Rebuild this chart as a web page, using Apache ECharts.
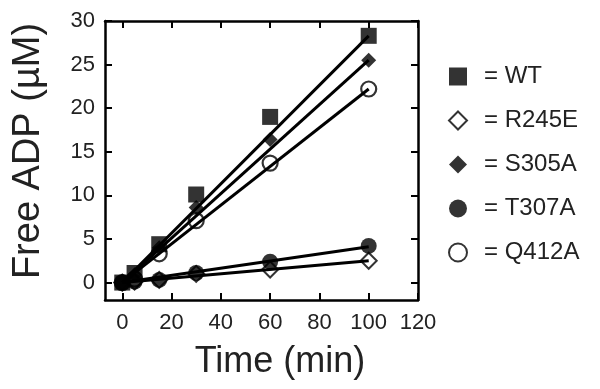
<!DOCTYPE html>
<html>
<head>
<meta charset="utf-8">
<script src="https://cdn.jsdelivr.net/npm/echarts@6/dist/echarts.min.js"></script>
<style>
  html, body { margin: 0; padding: 0; background: #fff; }
  #main { width: 600px; height: 389px; }
</style>
</head>
<body>
<div id="main"></div>
<script>
// time points (min) and free ADP (uM) for each mutant
var times = [0, 5, 15, 30, 60, 100];
var wt    = [0, 1.1, 4.4, 10.1, 19.0, 28.3];
var r245e = [0, 0.1, 0.3, 1.0, 1.5, 2.5];
var s305a = [0, 0.9, 4.0, 8.6, 16.4, 25.5];
var t307a = [0, 0.1, 0.3, 1.1, 2.4, 4.2];
var q412a = [0, 0.4, 3.3, 7.1, 13.7, 22.2];

// slopes of the straight fit lines (uM/min), drawn over fitRange
var names = ['WT', 'R245E', 'S305A', 'T307A', 'Q412A'];
var fitSlopes = [0.283, 0.025, 0.255, 0.041, 0.222];
var fitRange = [0, 100];

var xTicks = [0, 20, 40, 60, 80, 100, 120];
var yTicks = [0, 5, 10, 15, 20, 25, 30];

var chart = echarts.init(document.getElementById('main'));

var looks = {
    'WT':    { symbol: 'rect', size: [16, 16], style: { color: '#000' } },
    'R245E': { symbol: 'diamond', size: 16, style: { color: 'transparent', borderColor: '#000', borderWidth: 2 } },
    'S305A': { symbol: 'diamond', size: 15, style: { color: '#000' } },
    'T307A': { symbol: 'circle', size: 16, style: { color: '#000' } },
    'Q412A': { symbol: 'circle', size: 15, style: { color: 'transparent', borderColor: '#000', borderWidth: 2.2 } }
};
var values = { 'WT': wt, 'R245E': r245e, 'S305A': s305a, 'T307A': t307a, 'Q412A': q412a };

var series = [];
// fit lines first, under the markers
names.forEach(function (n, k) {
    series.push({
        name: n + ' fit',
        type: 'line',
        data: fitRange.map(function (t) { return [t, fitSlopes[k] * t]; }),
        showSymbol: false,
        silent: true,
        z: 2,
        lineStyle: { color: '#000', width: 3 }
    });
});
// markers, drawn so WT ends up on top
['Q412A', 'S305A', 'R245E', 'T307A', 'WT'].forEach(function (n) {
    series.push({
        name: n,
        type: 'scatter',
        data: times.map(function (t, i) { return [t, values[n][i]]; }),
        symbol: looks[n].symbol,
        symbolSize: looks[n].size,
        itemStyle: looks[n].style,
        z: 3
    });
});

var axisLine = { show: true, onZero: false, lineStyle: { color: '#000', width: 2.5 } };
var tickStyle = { color: '#000', width: 2 };
var font = 'Liberation Sans, Arial, sans-serif';

var option = {
    animation: false,
    grid: { left: 105, right: 182, top: 21, bottom: 89, containLabel: false, outerBoundsMode: 'none' },
    legend: {
        orient: 'vertical',
        left: 443,
        top: 59,
        itemWidth: 18,
        itemHeight: 18,
        itemGap: 19,
        data: names,
        formatter: function (n) { return '= ' + n; },
        textStyle: {
            fontFamily: font,
            fontSize: 24,
            lineHeight: 25,
            color: '#222',
            padding: [0, 0, 0, 12]
        }
    },
    xAxis: [{
        type: 'value',
        min: -7,
        max: 120,
        name: 'Time (min)',
        nameLocation: 'middle',
        nameGap: 44,
        nameTextStyle: {
            fontFamily: font,
            fontSize: 36,
            color: '#222',
            padding: [0, 0, 0, 37]
        },
        axisLine: axisLine,
        axisTick: { inside: true, length: 7, customValues: xTicks, lineStyle: tickStyle },
        axisLabel: {
            customValues: xTicks,
            margin: 12,
            fontFamily: font,
            fontSize: 22,
            color: '#222'
        },
        splitLine: { show: false }
    }, {
        type: 'value',
        position: 'top',
        min: -7,
        max: 120,
        axisLine: axisLine,
        axisTick: { inside: true, length: 7, customValues: xTicks, lineStyle: tickStyle },
        axisLabel: { show: false },
        splitLine: { show: false }
    }],
    yAxis: [{
        type: 'value',
        min: -2,
        max: 30,
        name: 'Free ADP (\u00b5M)',
        nameLocation: 'middle',
        nameGap: 57,
        nameTextStyle: {
            fontFamily: font,
            fontSize: 38,
            color: '#222',
            padding: [0, 0, 0, 19]
        },
        axisLine: axisLine,
        axisTick: { inside: true, length: 7, customValues: yTicks, lineStyle: tickStyle },
        axisLabel: {
            customValues: yTicks,
            margin: 10,
            fontFamily: font,
            fontSize: 22,
            color: '#222'
        },
        splitLine: { show: false }
    }, {
        type: 'value',
        position: 'right',
        min: -2,
        max: 30,
        axisLine: axisLine,
        axisTick: { inside: true, length: 7, customValues: yTicks, lineStyle: tickStyle },
        axisLabel: { show: false },
        splitLine: { show: false }
    }],
    series: series
};

chart.setOption(option);
</script>
</body>
</html>
